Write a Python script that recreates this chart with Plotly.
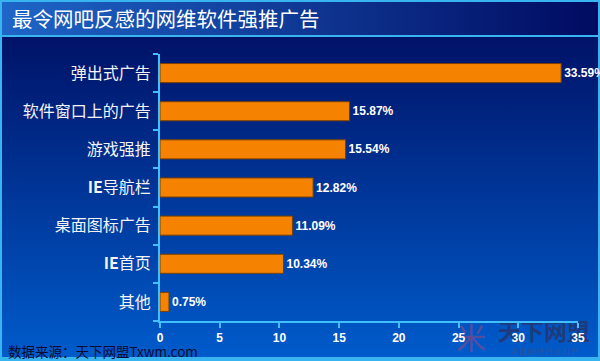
import base64
import plotly.graph_objects as go

categories = ["弹出式广告", "软件窗口上的广告", "游戏强推", "IE导航栏", "桌面图标广告", "IE首页", "其他"]
tick_labels = ["弹出式广告", "软件窗口上的广告", "游戏强推", "<b>IE</b>导航栏", "桌面图标广告", "<b>IE</b>首页", "其他"]
values = [33.59, 15.87, 15.54, 12.82, 11.09, 10.34, 0.75]
x_ticks = [0, 5, 10, 15, 20, 25, 30, 35]

W, H = 600, 361
ML, MR, MT, MB = 160, 22, 54, 40
PW, PH = W - ML - MR, H - MT - MB

# background decoration (gradients, frame and faint logo watermark) drawn beneath the chart
svg = f'''<svg xmlns="http://www.w3.org/2000/svg" width="{W}" height="{H}" viewBox="0 0 {W} {H}" preserveAspectRatio="none">
<defs>
<linearGradient id="body" x1="0" y1="0" x2="0" y2="1">
<stop offset="0" stop-color="#000a5c"/><stop offset="1" stop-color="#005ccc"/></linearGradient>
<linearGradient id="head" x1="0" y1="0" x2="1" y2="0">
<stop offset="0" stop-color="#1e66c8"/><stop offset="1" stop-color="#000a60"/></linearGradient>
</defs>
<rect x="0" y="0" width="{W}" height="{H}" fill="url(#body)"/>
<rect x="0" y="0" width="{W}" height="35" fill="url(#head)"/>
<rect x="0" y="35" width="{W}" height="2" fill="#38b4f0"/>
<rect x="0" y="357" width="{W}" height="4" fill="#38b4f0"/>
<rect x="1" y="1" width="{W-2}" height="{H-2}" fill="none" stroke="#38b4f0" stroke-width="2"/>
<text x="471" y="349" text-anchor="middle" font-family="Noto Sans CJK SC" font-size="30" fill="rgba(160,70,120,0.55)">米</text>
<text x="544" y="340" text-anchor="middle" font-family="Noto Sans CJK SC" font-weight="bold" font-size="23" fill="rgba(40,50,100,0.75)">天下网盟</text>
<text x="544" y="354" text-anchor="middle" font-family="Noto Sans CJK SC" font-size="7" fill="rgba(60,80,130,0.8)">中 国 网 吧 行 业 门 户</text>
</svg>'''
src = "data:image/svg+xml;base64," + base64.b64encode(svg.encode("utf-8")).decode()

fig = go.Figure()
fig.add_trace(go.Bar(
    y=categories, x=values, orientation="h",
    marker=dict(color="#f58200", line=dict(color="#7a4000", width=1)),
    width=0.5,
    texttemplate="%{x:.2f}%", textposition="outside", constraintext="none",
    textfont=dict(family="Liberation Sans, Arial", size=12, color="white", weight="bold"),
    cliponaxis=False, hoverinfo="skip",
))

fig.update_layout(
    width=W, height=H,
    margin=dict(l=ML, r=MR, t=MT, b=MB),
    paper_bgcolor="#000a5c", plot_bgcolor="rgba(0,0,0,0)",
    showlegend=False,
    images=[dict(source=src, xref="paper", yref="paper",
                 x=-ML / PW, y=1 + MT / PH, sizex=W / PW, sizey=H / PH,
                 xanchor="left", yanchor="top", sizing="stretch", layer="below")],
    xaxis=dict(range=[0, 35], tickvals=x_ticks, ticks="outside", ticklen=5, tickwidth=2,
               tickcolor="#40c0ff", showline=True, linecolor="#40c0ff", linewidth=2,
               showgrid=False, zeroline=False,
               tickfont=dict(family="Liberation Sans, Arial", size=12, color="white", weight="bold")),
    yaxis=dict(categoryorder="array", categoryarray=categories, autorange="reversed",
               tickvals=categories, ticktext=tick_labels, tickson="boundaries",
               ticks="outside", ticklen=5, tickwidth=2, tickcolor="#40c0ff", ticklabelstandoff=4,
               showline=True, linecolor="#40c0ff", linewidth=2, showgrid=False,
               tickfont=dict(family="Noto Sans CJK SC", size=16, color="#f4f4f4")),
    annotations=[
        dict(text="最令网吧反感的网维软件强推广告", xref="paper", yref="paper",
             x=-(ML - 10) / PW, y=1 + (MT - 18) / PH, xanchor="left", yanchor="middle",
             showarrow=False, font=dict(family="Noto Sans CJK SC", size=20.5, color="white")),
        dict(text="数据来源：天下网盟Txwm.com", xref="paper", yref="paper",
             x=-(ML - 6) / PW, y=-(351 - (H - MB)) / PH, xanchor="left", yanchor="middle",
             showarrow=False, font=dict(family="Noto Sans CJK SC", size=13.5, color="#0a0a30")),
    ],
)

fig.write_html("out.html", config={"displayModeBar": False},
               post_script="document.body.style.margin='0';document.body.style.overflow='hidden';")
